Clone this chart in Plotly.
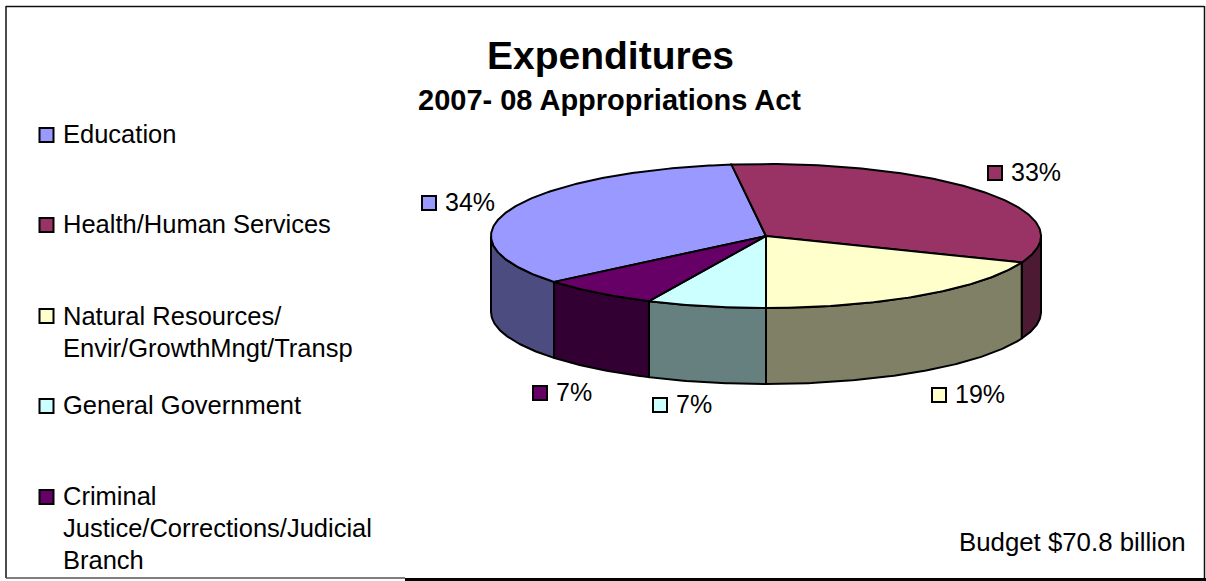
import numpy as np
import plotly.graph_objects as go

# Budget shares, in percent, listed clockwise around the pie
categories = [
    "Education",
    "Health/Human Services",
    "Natural Resources/<br>Envir/GrowthMngt/Transp",
    "General Government",
    "Criminal<br>Justice/Corrections/Judicial<br>Branch",
]
shares = [34, 33, 19, 7, 7]

top_colors = ["#9999FF", "#993366", "#FFFFCC", "#CCFFFF", "#660066"]
side_colors = ["#4C4C80", "#4D1A33", "#808066", "#668080", "#330033"]

W, H = 1206, 581
CX, CY, RX, RY, DEPTH = 766, 236, 275, 72, 76
FIRST_ANGLE = 230.4  # degrees clockwise from the top of the pie
FONT = "Liberation Sans"


def rim(start, end, drop=0.0):
    """Points on the ellipse between two clockwise angles, optionally lowered."""
    n = max(2, int(abs(end - start) * 1.5))
    t = np.radians(np.linspace(start, end, n))
    return CX + RX * np.sin(t), CY - RY * np.cos(t) + drop


fig = go.Figure()

edges = FIRST_ANGLE + np.concatenate([[0], np.cumsum(shares)]) * 3.6
line = dict(color="black", width=2)

# Walls: only the part of each slice on the near half of the rim (90..270 degrees)
for k in range(len(shares)):
    for turn in (0, 360):
        a = max(edges[k], 90 + turn)
        b = min(edges[k + 1], 270 + turn)
        if a < b:
            ux, uy = rim(a, b)
            lx, ly = rim(b, a, DEPTH)
            fig.add_trace(go.Scatter(
                x=np.r_[ux, lx, ux[0]], y=np.r_[uy, ly, uy[0]],
                mode="lines", fill="toself", fillcolor=side_colors[k],
                line=line, hoverinfo="skip", showlegend=False,
            ))

# Top faces
for k, name in enumerate(categories):
    ax, ay = rim(edges[k], edges[k + 1])
    fig.add_trace(go.Scatter(
        x=np.r_[CX, ax, CX], y=np.r_[CY, ay, CY],
        mode="lines", fill="toself", fillcolor=top_colors[k],
        line=line, hoveron="fills", text=f"{name.replace('<br>', ' ')}: {shares[k]}%",
        hoverinfo="text", showlegend=False,
    ))

annotations = []


def add_text(x, y, text, size, anchor="left", bold=False):
    annotations.append(dict(
        x=x, y=y, text=f"<b>{text}</b>" if bold else text, showarrow=False,
        xref="x", yref="y", xanchor=anchor, yanchor="middle", align="left",
        font=dict(family=FONT, size=size, color="black"),
    ))


add_text(610, 55, "Expenditures", 39, "center", True)
add_text(609, 100, "2007- 08 Appropriations Act", 29, "center", True)
add_text(957, 542, "Budget $70.8 billion", 25.8)

# Colour keys for the legend column and the percentage labels
legend_y = [135, 225, 316, 406, 497]
legend_text_y = [134, 224, 315.5, 405, 496]
LEGEND_LEADING = 32
label_pos = [(429, 203), (995, 173), (939, 395), (660, 405), (540, 393)]

key_x, key_y, key_c = [], [], []
for k, name in enumerate(categories):
    key_x += [46.5, label_pos[k][0]]
    key_y += [legend_y[k], label_pos[k][1]]
    key_c += [top_colors[k]] * 2
    for n, part in enumerate(name.split("<br>")):
        add_text(60.5, legend_text_y[k] + n * LEGEND_LEADING, part, 25.5)
    add_text(label_pos[k][0] + 13.5, label_pos[k][1] - 1, f"{shares[k]}%", 25)

fig.add_trace(go.Scatter(
    x=key_x, y=key_y, mode="markers", hoverinfo="skip", showlegend=False,
    marker=dict(symbol="square", size=14, color=key_c, line=dict(color="black", width=2)),
))

# Chart frame, heavier along the lower right
frame = [
    dict(x0=6, x1=1204, y0=6.5, y1=6.5, width=1.5, color="#111111"),
    dict(x0=6, x1=6, y0=6, y1=578, width=1.5, color="#111111"),
    dict(x0=1204.5, x1=1204.5, y0=6, y1=579, width=1.5, color="#111111"),
    dict(x0=6, x1=405, y0=578, y1=578, width=1.5, color="#555555"),
    dict(x0=405, x1=1206, y0=579.5, y1=579.5, width=3, color="#000000"),
]
shapes = [
    dict(type="line", xref="x", yref="y", x0=f["x0"], x1=f["x1"], y0=f["y0"], y1=f["y1"],
         line=dict(color=f["color"], width=f["width"]), layer="below")
    for f in frame
]

fig.update_layout(
    width=W, height=H, margin=dict(l=0, r=0, t=0, b=0),
    paper_bgcolor="white", plot_bgcolor="white",
    xaxis=dict(range=[0, W], visible=False, fixedrange=True),
    yaxis=dict(range=[H, 0], visible=False, fixedrange=True),
    annotations=annotations, shapes=shapes,
    font=dict(family=FONT),
)

fig.write_html("out.html")
